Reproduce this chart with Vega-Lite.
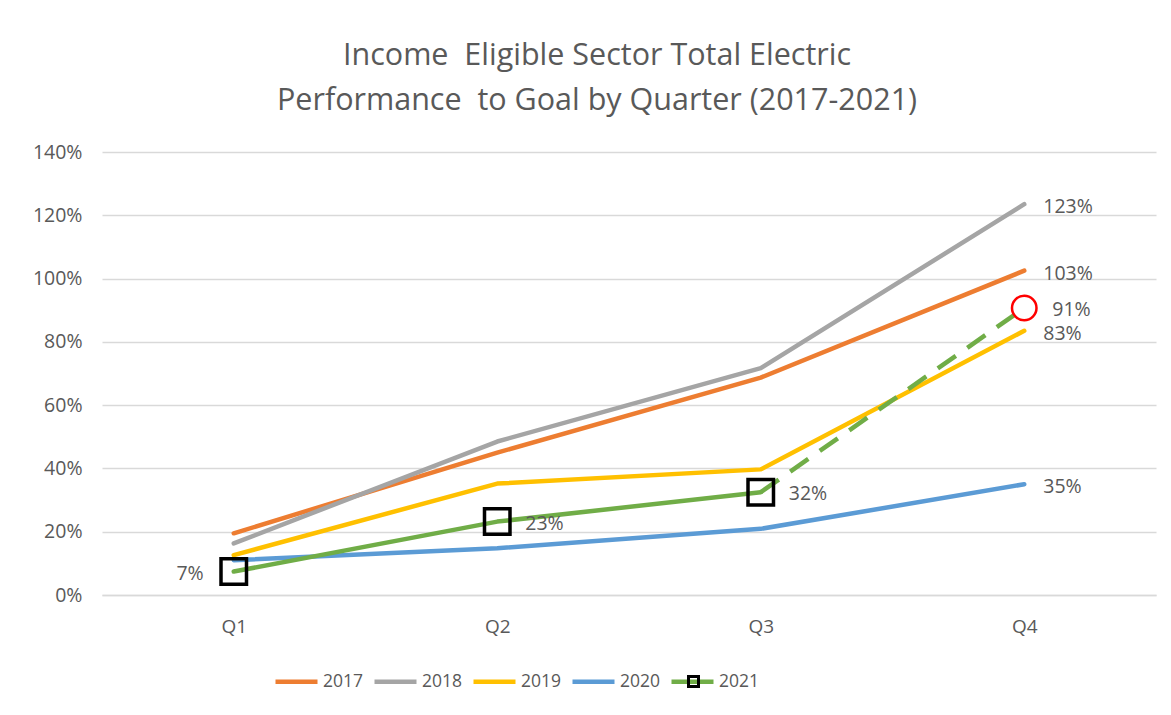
{
  "$schema": "https://vega.github.io/schema/vega-lite/v6.json",
  "width": 1054,
  "height": 443,
  "autosize": {"type": "none"},
  "padding": {"left": 102, "top": 152, "right": 15, "bottom": 120},
  "background": "white",
  "title": {
    "text": ["Income\u00a0\u00a0Eligible Sector Total Electric", "Performance\u00a0\u00a0to Goal by Quarter (2017-2021)"],
    "font": "Open Sans", "fontSize": 30.5, "fontWeight": "normal", "color": "#595959",
    "anchor": "middle", "dx": -32, "lineHeight": 45, "offset": 26
  },
  "config": {
    "view": {"stroke": null},
    "font": "Open Sans",
    "text": {"font": "Open Sans"}
  },
  "datasets": {
    "lines": [
      {"year": "2017", "q": "Q1", "v": 0.195}, {"year": "2017", "q": "Q2", "v": 0.45}, {"year": "2017", "q": "Q3", "v": 0.687}, {"year": "2017", "q": "Q4", "v": 1.025},
      {"year": "2018", "q": "Q1", "v": 0.163}, {"year": "2018", "q": "Q2", "v": 0.485}, {"year": "2018", "q": "Q3", "v": 0.717}, {"year": "2018", "q": "Q4", "v": 1.235},
      {"year": "2019", "q": "Q1", "v": 0.126}, {"year": "2019", "q": "Q2", "v": 0.352}, {"year": "2019", "q": "Q3", "v": 0.397}, {"year": "2019", "q": "Q4", "v": 0.835},
      {"year": "2020", "q": "Q1", "v": 0.11}, {"year": "2020", "q": "Q2", "v": 0.148}, {"year": "2020", "q": "Q3", "v": 0.209}, {"year": "2020", "q": "Q4", "v": 0.35},
      {"year": "2021", "q": "Q1", "v": 0.074}, {"year": "2021", "q": "Q2", "v": 0.232}, {"year": "2021", "q": "Q3", "v": 0.325}
    ],
    "dash": [
      {"q": "Q3", "v": 0.325}, {"q": "Q4", "v": 0.907}
    ],
    "labelsNear": [
      {"q": "Q4", "v": 1.235, "t": "123%"}, {"q": "Q4", "v": 1.025, "t": "103%"},
      {"q": "Q4", "v": 0.835, "t": "83%"}, {"q": "Q4", "v": 0.35, "t": "35%"}
    ],
    "labelsFar": [
      {"q": "Q4", "v": 0.907, "t": "91%"}, {"q": "Q3", "v": 0.325, "t": "32%"}, {"q": "Q2", "v": 0.232, "t": "23%"}
    ],
    "labelsLeft": [
      {"q": "Q1", "v": 0.074, "t": "7%"}
    ]
  },
  "encoding": {
    "x": {
      "field": "q", "type": "ordinal",
      "scale": {"type": "point", "domain": ["Q1", "Q2", "Q3", "Q4"], "padding": 0.5},
      "axis": {"title": null, "labelAngle": 0, "ticks": false, "domainColor": "#D9D9D9", "domainWidth": 1.5, "labelColor": "#595959", "labelFontSize": 19, "labelPadding": 22, "labelFont": "Open Sans"}
    },
    "y": {
      "field": "v", "type": "quantitative",
      "scale": {"domain": [0, 1.4], "nice": false},
      "axis": {"title": null, "format": ".0%", "values": [0, 0.2, 0.4, 0.6, 0.8, 1.0, 1.2, 1.4], "domain": false, "ticks": false, "gridColor": "#D9D9D9", "gridWidth": 1.5, "labelColor": "#595959", "labelFontSize": 19.5, "labelPadding": 20, "labelFont": "Open Sans"}
    }
  },
  "layer": [
    {
      "data": {"name": "lines"},
      "mark": {"type": "line", "strokeWidth": 4.5, "strokeCap": "round", "strokeJoin": "round"},
      "encoding": {
        "color": {
          "field": "year", "type": "nominal",
          "scale": {"domain": ["2017", "2018", "2019", "2020", "2021"], "range": ["#ED7D31", "#A5A5A5", "#FFC000", "#5B9BD5", "#70AD47"]},
          "legend": {
            "title": null, "orient": "none", "direction": "horizontal", "columns": 5,
            "legendX": 171, "legendY": 506,
            "symbolType": "stroke", "symbolSize": 1764, "symbolStrokeWidth": 4.5,
            "labelFontSize": 17.5, "labelColor": "#595959", "labelFont": "Open Sans",
            "labelOffset": 3, "columnPadding": 1
          }
        }
      }
    },
    {
      "data": {"name": "dash"},
      "mark": {"type": "line", "strokeWidth": 4.5, "strokeDash": [22, 14], "color": "#70AD47"},
      "encoding": {}
    },
    {
      "data": {"name": "lines"},
      "transform": [{"filter": "datum.year == '2021'"}],
      "mark": {"type": "point", "size": 650, "filled": false, "stroke": "black", "strokeWidth": 3.5, "opacity": 1},
      "encoding": {
        "shape": {
          "field": "year", "type": "nominal",
          "scale": {"domain": ["2021"], "range": ["square"]},
          "legend": {
            "title": null, "orient": "none", "legendX": 585, "legendY": 523,
            "labelOpacity": 0, "labelFontSize": 1,
            "symbolSize": 100, "symbolStrokeColor": "black", "symbolFillColor": "#70AD47", "symbolStrokeWidth": 3
          }
        }
      }
    },
    {
      "data": {"name": "dash"},
      "transform": [{"filter": "datum.q == 'Q4'"}],
      "mark": {"type": "point", "shape": "circle", "size": 600, "filled": false, "stroke": "#FF0000", "strokeWidth": 2.5, "opacity": 1},
      "encoding": {}
    },
    {
      "data": {"name": "labelsNear"},
      "mark": {"type": "text", "align": "left", "baseline": "middle", "dx": 19, "dy": 3, "fontSize": 19.5, "color": "#595959"},
      "encoding": {"text": {"field": "t"}}
    },
    {
      "data": {"name": "labelsFar"},
      "mark": {"type": "text", "align": "left", "baseline": "middle", "dx": 28, "dy": 2, "fontSize": 19.5, "color": "#595959"},
      "encoding": {"text": {"field": "t"}}
    },
    {
      "data": {"name": "labelsLeft"},
      "mark": {"type": "text", "align": "right", "baseline": "middle", "dx": -30, "dy": 2, "fontSize": 19.5, "color": "#595959"},
      "encoding": {"text": {"field": "t"}}
    }
  ]
}
